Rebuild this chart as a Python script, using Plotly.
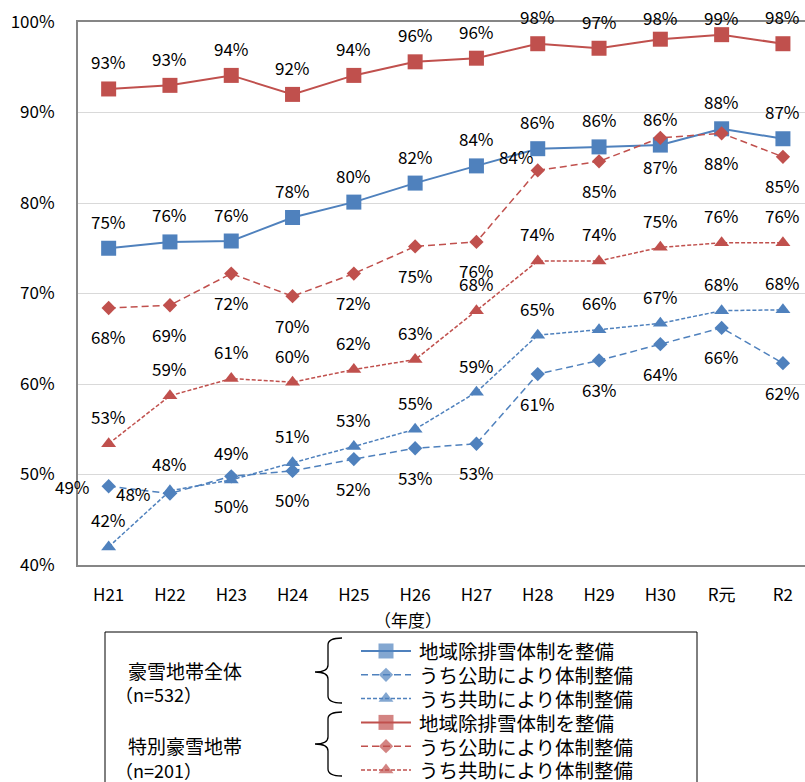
import plotly.graph_objects as go

# ---------------- data ----------------
years = ["H21", "H22", "H23", "H24", "H25", "H26", "H27", "H28", "H29", "H30", "R元", "R2"]

# 豪雪地帯全体 (n=532)
heavy_total = [75.0, 75.7, 75.8, 78.4, 80.1, 82.2, 84.1, 86.0, 86.2, 86.4, 88.2, 87.1]
heavy_public = [48.7, 47.9, 49.8, 50.4, 51.7, 52.9, 53.4, 61.1, 62.6, 64.4, 66.2, 62.3]
heavy_mutual = [42.0, 48.2, 49.4, 51.3, 53.1, 55.0, 59.1, 65.4, 66.0, 66.7, 68.1, 68.2]

# 特別豪雪地帯 (n=201)
special_total = [92.6, 93.0, 94.1, 92.0, 94.1, 95.6, 96.0, 97.6, 97.1, 98.1, 98.6, 97.6]
special_public = [68.4, 68.7, 72.2, 69.7, 72.2, 75.2, 75.7, 83.6, 84.6, 87.2, 87.7, 85.1]
special_mutual = [53.4, 58.7, 60.6, 60.2, 61.6, 62.7, 68.1, 73.6, 73.6, 75.1, 75.6, 75.6]

ytick_values = [40, 50, 60, 70, 80, 90, 100]
series_names = ["地域除排雪体制を整備", "うち公助により体制整備", "うち共助により体制整備"]
group_names = ["豪雪地帯全体", "特別豪雪地帯"]
group_sizes = ["（n=532）", "（n=201）"]
axis_title = "（年度）"

# ---------------- styles ----------------
BLUE = "#4F81BD"
RED = "#C0504D"
FONT = "Noto Sans CJK JP, Noto Sans, sans-serif"
W, H = 805, 782
ML, MR, MT, MB = 78, 0, 22, 0
PW, PH = W - ML - MR, H - MT - MB
PLOT_BOTTOM_PX = 565


def px(x, y):
    """pixel -> paper coordinates"""
    return (x - ML) / PW, (H - MB - y) / PH


# label placement codes: a=above, b=below, l=left, ul=upper-left, t1/t2=above but kept inside chart
pos_above = ["a"] * 12
pos_heavy_public = ["l", "l"] + ["b"] * 10
pos_special_total = ["a"] * 9 + ["t1", "t2", "a"]
pos_special_public = ["b"] * 7 + ["ul"] + ["b"] * 4
shift = {"a": (0, 27), "b": (0, -29), "l": (-36, 0), "ul": (-21, 14), "t1": (0, 22), "t2": (0, 17)}

series = [
    (heavy_total, BLUE, "square", 15, "solid", 2.0, pos_above),
    (heavy_public, BLUE, "diamond", 11, "7px,4px", 1.5, pos_heavy_public),
    (heavy_mutual, BLUE, "triangle-up", 13, "4px,2px", 1.5, pos_above),
    (special_total, RED, "square", 15, "solid", 2.0, pos_special_total),
    (special_public, RED, "diamond", 11, "7px,4px", 1.5, pos_special_public),
    (special_mutual, RED, "triangle-up", 13, "4px,2px", 1.5, pos_above),
]

fig = go.Figure()
annotations = []

for idx, (vals, color, sym, size, dash, lw, pos) in enumerate(series):
    name = series_names[idx % 3]
    fig.add_trace(go.Scatter(
        x=years, y=vals, mode="lines+markers", name=name,
        line=dict(color=color, width=lw, dash=dash),
        marker=dict(symbol=sym, size=size, color=color, line=dict(width=0)),
        cliponaxis=False, showlegend=False, xaxis="x", yaxis="y",
    ))
    for xv, yv, p in zip(years, vals, pos):
        dx, dy = shift[p]
        annotations.append(dict(
            x=xv, y=yv, xref="x", yref="y", text=f"{yv:.0f}%", showarrow=False,
            xanchor="center", yanchor="middle",
            xshift=dx, yshift=dy, font=dict(family=FONT, size=17, color="#000000"),
        ))

    # legend sample on hidden axes
    row = idx
    fig.add_trace(go.Scatter(
        x=[0, 0.5, 1], y=[row, row, row], mode="lines+markers",
        line=dict(color=color, width=lw, dash=dash),
        marker=dict(symbol=sym, size=[0, size, 0], color=color, line=dict(width=0)),
        showlegend=False, hoverinfo="skip", xaxis="x2", yaxis="y2", cliponaxis=False,
    ))
    annotations.append(dict(
        x=1, y=row, xref="x2", yref="y2", text=name, showarrow=False,
        xanchor="left", yanchor="middle", xshift=6,
        font=dict(family=FONT, size=19.5, color="#000000"),
    ))

# group labels
group_rows_px = [(670, 694), (745, 770)]
for gname, gsize, (y1, y2) in zip(group_names, group_sizes, group_rows_px):
    gx, gy = px(126, y1)
    annotations.append(dict(x=gx, y=gy, xref="paper", yref="paper", text=gname,
                            showarrow=False, xanchor="left", yanchor="middle",
                            font=dict(family=FONT, size=19, color="#000000")))
    gx, gy = px(113, y2)
    annotations.append(dict(x=gx, y=gy, xref="paper", yref="paper", text=gsize,
                            showarrow=False, xanchor="left", yanchor="middle",
                            font=dict(family=FONT, size=18, color="#000000")))

# axis title
tx, ty = px(408, 619)
annotations.append(dict(x=tx, y=ty, xref="paper", yref="paper", text=axis_title,
                        showarrow=False, xanchor="center", yanchor="middle",
                        font=dict(family=FONT, size=17, color="#000000")))

shapes = []
# legend box
bx0, by0 = px(105, 632)
bx1, by1 = px(697, 800)
shapes.append(dict(type="rect", xref="paper", yref="paper", x0=bx0, x1=bx1, y0=by1, y1=by0,
                   line=dict(color="#000000", width=1), fillcolor="rgba(0,0,0,0)", layer="below"))


def brace(top, tip, bottom, xv=328, xt=315, xe=342, r=7):
    pts = [
        ("M", [(xe, top)]),
        ("Q", [(xv, top), (xv, top + r)]),
        ("L", [(xv, tip - r)]),
        ("Q", [(xv, tip), (xt, tip)]),
        ("Q", [(xv, tip), (xv, tip + r)]),
        ("L", [(xv, bottom - r)]),
        ("Q", [(xv, bottom), (xe, bottom)]),
    ]
    s = ""
    for cmd, coords in pts:
        s += cmd + " " + " ".join(f"{px(a, b)[0]:.5f},{px(a, b)[1]:.5f}" for a, b in coords) + " "
    return s.strip()


shapes.append(dict(type="path", xref="paper", yref="paper", path=brace(638, 672, 703),
                   line=dict(color="#000000", width=1.3)))
shapes.append(dict(type="path", xref="paper", yref="paper", path=brace(712, 744, 776),
                   line=dict(color="#000000", width=1.3)))

ydom0 = (H - MB - PLOT_BOTTOM_PX) / PH
lx0, _ = px(361, 0)
lx1, _ = px(411, 0)
_, ly1 = px(0, 630)

fig.update_layout(
    template="none",
    width=W, height=H, autosize=False,
    margin=dict(l=ML, r=MR, t=MT, b=MB, pad=0, autoexpand=False),
    paper_bgcolor="#FFFFFF", plot_bgcolor="#FFFFFF",
    font=dict(family=FONT, color="#000000"),
    showlegend=False,
    xaxis=dict(
        type="category", categoryorder="array", categoryarray=years,
        range=[-0.5, 11.36], domain=[0, 1], anchor="y", automargin=False,
        showline=True, linecolor="#868686", linewidth=2, mirror=True,
        showgrid=False, zeroline=False, ticks="",
        tickfont=dict(family=FONT, size=17, color="#000000"),
        ticklabelstandoff=14, fixedrange=True,
    ),
    yaxis=dict(
        range=[40, 100], domain=[ydom0, 1], anchor="x", automargin=False,
        tickvals=ytick_values, ticktext=[f"{v}%" for v in ytick_values],
        showline=True, linecolor="#868686", linewidth=2, mirror=False,
        showgrid=True, gridcolor="#D9D9D9", gridwidth=1, zeroline=False, ticks="",
        tickfont=dict(family=FONT, size=17, color="#000000"),
        ticklabelstandoff=18, fixedrange=True,
    ),
    xaxis2=dict(domain=[lx0, lx1], range=[0, 1], anchor="y2", visible=False,
                fixedrange=True, automargin=False),
    yaxis2=dict(domain=[0, ly1], range=[5.505, -0.882], anchor="x2", visible=False,
                fixedrange=True, automargin=False),
    annotations=annotations,
    shapes=shapes,
)

fig.write_html("out.html")
